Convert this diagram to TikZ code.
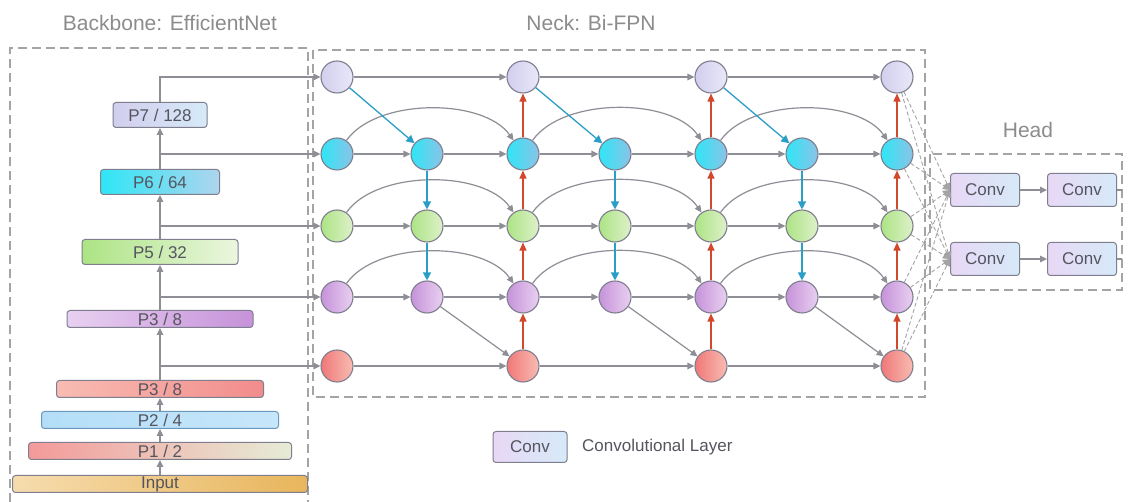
\documentclass[tikz,border=0pt]{standalone}
\usepackage{fontspec}
\setmainfont{Liberation Sans}
\usetikzlibrary{arrows.meta}
\definecolor{edgec}{HTML}{8E8E96}
\definecolor{nodeedge}{HTML}{7E7E8E}
\definecolor{blu}{HTML}{2A9EC6}
\definecolor{rd}{HTML}{D2482A}
\definecolor{txt}{HTML}{55555F}
\definecolor{ttl}{HTML}{8C8C8C}
\definecolor{dashc}{HTML}{A4A4A4}
\definecolor{HTML7A}{HTML}{D2CEEE}
\definecolor{HTML7B}{HTML}{E8E8F8}
\definecolor{HTML6A}{HTML}{2EE6F6}
\definecolor{HTML6B}{HTML}{8CC2E6}
\definecolor{HTML5A}{HTML}{ACE484}
\definecolor{HTML5B}{HTML}{DEF0CA}
\definecolor{HTML4A}{HTML}{C692DA}
\definecolor{HTML4B}{HTML}{E8D0F0}
\definecolor{HTML3A}{HTML}{F07878}
\definecolor{HTML3B}{HTML}{F8BCB2}
\definecolor{convA}{HTML}{E8D8F6}
\definecolor{convB}{HTML}{D6EAF8}
\definecolor{inA}{HTML}{F6DCAE}
\definecolor{inB}{HTML}{E8B65C}
\definecolor{p1B}{HTML}{E6ECD6}
\definecolor{p2A}{HTML}{B4DEF8}
\definecolor{p2B}{HTML}{C6E6FA}
\definecolor{p2E}{HTML}{6A98BC}
\tikzset{
  fnode/.style={circle, draw=nodeedge, line width=1.1pt, minimum size=32pt, inner sep=0pt},
  lvA/.style={fnode, left color=HTML7A, right color=HTML7B},
  lvB/.style={fnode, left color=HTML6A, right color=HTML6B},
  lvC/.style={fnode, left color=HTML5A, right color=HTML5B},
  lvD/.style={fnode, left color=HTML4A, right color=HTML4B},
  lvE/.style={fnode, left color=HTML3A, right color=HTML3B},
  bb/.style={rectangle, rounded corners=3pt, draw=nodeedge, line width=1pt, text=txt,
     font=\fontsize{17}{18}\selectfont, inner sep=0pt},
  convbox/.style={bb, left color=convA, right color=convB, minimum width=69pt, minimum height=33pt},
  arr/.style={-{Triangle[length=7pt,width=6.5pt]}, draw=edgec, line width=1.2pt},
  barr/.style={-{Triangle[length=8pt,width=8pt]}, draw=blu, line width=1.3pt},
  rarr/.style={-{Triangle[length=8pt,width=7pt]}, draw=rd, line width=1.3pt},
  harr/.style={-{Triangle[length=7pt,width=7pt]}, draw=dashc, line width=0.9pt, dash pattern=on 4pt off 2.5pt},
  grp/.style={draw=dashc, line width=1.3pt, dash pattern=on 9pt off 5pt},
  ttlstyle/.style={text=ttl, font=\fontsize{21}{24}\selectfont},
}
\begin{document}
\begin{tikzpicture}[x=1pt,y=-1pt]
\useasboundingbox[fill=white] (0,0) rectangle (1128,502);

% titles
\node[ttlstyle] (tb) at (170,23) {Backbone: EfficientNet};
\node[ttlstyle] (tn) at (591,23) {Neck: Bi-FPN};
\node[ttlstyle] (th) at (1028,130) {Head};

% group boxes
\draw[grp] (10,502) -- (10,48) -- (308,48) -- (308,502);
\draw[grp] (313,50) rectangle (925,397);
\draw[grp] (930,154) rectangle (1122,290);

% backbone boxes
\node[bb, left color=HTML7A, right color=convB, minimum width=94pt, minimum height=25pt] (p7) at (160,115) {P7 / 128};
\node[bb, left color=HTML6A, right color=HTML6B!70!white, minimum width=119pt, minimum height=25pt] (p6) at (160,182) {P6 / 64};
\node[bb, left color=HTML5A, right color=HTML5B!60!white, minimum width=156pt, minimum height=25pt] (p5) at (160,252) {P5 / 32};
\node[bb, left color=HTML4B, right color=HTML4A, minimum width=186pt, minimum height=17pt] (p4) at (160,319) {P3 / 8};
\node[bb, left color=HTML3B, right color=HTML3A!85!white, minimum width=207pt, minimum height=17pt] (p3) at (160,389) {P3 / 8};
\node[bb, draw=p2E, left color=p2A, right color=p2B, minimum width=237pt, minimum height=17pt] (p2) at (160,420) {P2 / 4};
\node[bb, left color=HTML3A!75!white, right color=p1B, minimum width=263pt, minimum height=17pt] (p1) at (160,451) {P1 / 2};
\node[bb, left color=inA, right color=inB, minimum width=295pt, minimum height=17pt] (inp) at (160,484) {Input};

\draw[arr] (inp) -- (p1);
\draw[arr] (p1) -- (p2);
\draw[arr] (p2) -- (p3);
\draw[arr] (p3) -- (p4);
\draw[arr] (p4) -- (p5);
\draw[arr] (p5) -- (p6);
\draw[arr] (p6) -- (p7);

% neck nodes
\foreach \c/\x in {1/337,3/523,5/711,7/897}{
  \node[lvA] (n1\c) at (\x,77) {};
  \node[lvE] (n5\c) at (\x,366) {};
}
\foreach \c/\x in {1/337,2/427,3/523,4/615,5/711,6/802,7/897}{
  \node[lvB] (n2\c) at (\x,154) {};
  \node[lvC] (n3\c) at (\x,226) {};
  \node[lvD] (n4\c) at (\x,297) {};
}

% backbone to neck
\draw[arr] (p7.north) |- (n11);
\draw[arr] (p7.south |- n21) -- (n21);
\draw[arr] (p7.south |- n31) -- (n31);
\draw[arr] (p7.south |- n41) -- (n41);
\draw[arr] (p7.south |- n51) -- (n51);

% horizontal links
\draw[arr] (n11) -- (n13);
\draw[arr] (n13) -- (n15);
\draw[arr] (n15) -- (n17);
\draw[arr] (n51) -- (n53);
\draw[arr] (n53) -- (n55);
\draw[arr] (n55) -- (n57);
\foreach \r in {2,3,4}{
  \draw[arr] (n\r1) -- (n\r2);
  \draw[arr] (n\r2) -- (n\r3);
  \draw[arr] (n\r3) -- (n\r4);
  \draw[arr] (n\r4) -- (n\r5);
  \draw[arr] (n\r5) -- (n\r6);
  \draw[arr] (n\r6) -- (n\r7);
  \draw[arr] (n\r1) to[out=55,in=125,looseness=0.8] (n\r3);
  \draw[arr] (n\r3) to[out=55,in=125,looseness=0.8] (n\r5);
  \draw[arr] (n\r5) to[out=55,in=125,looseness=0.8] (n\r7);
}

% top-down paths
\foreach \a/\b/\c in {1/2/3,3/4/5,5/6/7}{
  \draw[barr] (n1\a) -- (n2\b);
  \draw[barr] (n2\b) -- (n3\b);
  \draw[barr] (n3\b) -- (n4\b);
  \draw[arr] (n4\b) -- (n5\c);
}
% bottom-up paths
\foreach \c in {3,5,7}{
  \draw[rarr] (n5\c) -- (n4\c);
  \draw[rarr] (n4\c) -- (n3\c);
  \draw[rarr] (n3\c) -- (n2\c);
  \draw[rarr] (n2\c) -- (n1\c);
}

% head
\node[convbox] (h1) at (985,190) {Conv};
\node[convbox] (h1b) at (1082,190) {Conv};
\node[convbox] (h2) at (985,259) {Conv};
\node[convbox] (h2b) at (1082,259) {Conv};
\coordinate (e1) at (1122,190);
\coordinate (e2) at (1122,259);
\draw[arr] (h1) -- (h1b);
\draw[arr] (h2) -- (h2b);
\draw[draw=edgec, line width=1.2pt] (h1b) -- (e1);
\draw[draw=edgec, line width=1.2pt] (h2b) -- (e2);
\foreach \r in {1,2,3,4,5}{
  \draw[harr] (n\r7) -- (h1.west);
  \draw[harr] (n\r7) -- (h2.west);
}

% legend
\node[convbox, minimum width=74pt, minimum height=31pt] (lg) at (530,447) {Conv};
\node[anchor=west, text=txt, font=\fontsize{17}{18}\selectfont, inner sep=0pt] (lgt) at (582,447) {Convolutional Layer};
\end{tikzpicture}
\end{document}
